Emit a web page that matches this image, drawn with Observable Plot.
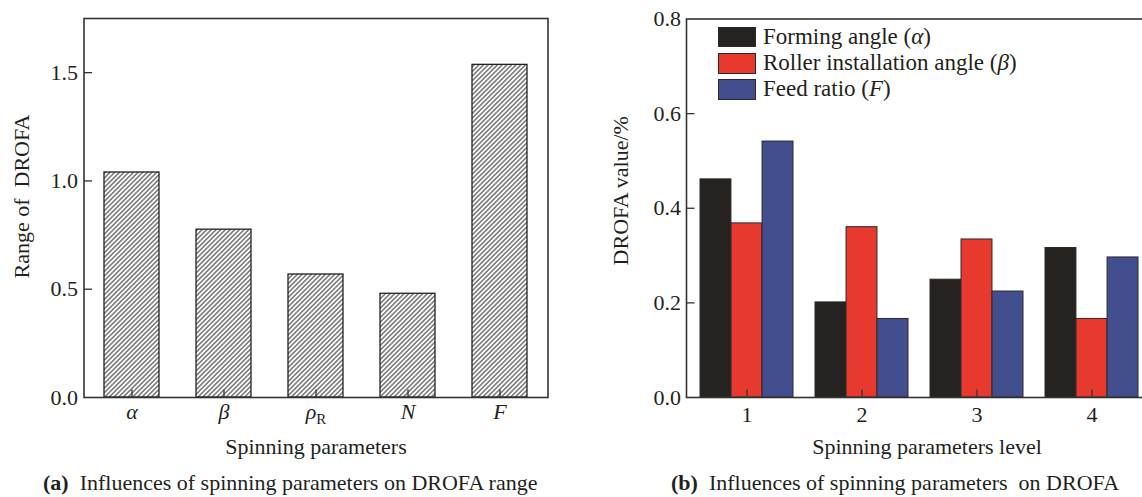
<!DOCTYPE html>
<html><head><meta charset="utf-8">
<script src="https://cdn.jsdelivr.net/npm/d3@7"></script>
<script src="https://cdn.jsdelivr.net/npm/@observablehq/plot@0.6"></script>
<style>
html,body{margin:0;padding:0;background:#fff;}
body{width:1142px;height:497px;overflow:hidden;position:relative;font-family:"Liberation Serif",serif;color:#231f20;}
.panel{position:absolute;top:0;}
.panel svg{max-width:none !important;display:block;}
svg text{font-family:"Liberation Serif",serif;font-size:22px;fill:#231f20;}
.caption{position:absolute;top:472px;font-size:22px;line-height:22px;white-space:pre;}
.legend{position:absolute;left:718px;top:24px;font-size:23px;}
.legend .row{display:flex;align-items:center;height:26.2px;line-height:26px;white-space:pre;}
.legend .sw{width:35.7px;height:18.5px;border:1px solid #2a2a2a;margin-right:7.3px;box-sizing:content-box;}
</style></head><body>
<div class="panel" id="left" style="left:0;width:570px"></div>
<div class="panel" id="right" style="left:600px;width:600px"></div>
<div class="legend" id="legend"></div>
<div class="caption" style="left:43px"><b>(a)</b>  Influences of spinning parameters on DROFA range</div>
<div class="caption" style="left:671px"><b>(b)</b>  Influences of spinning parameters  on DROFA</div>
<script>
// ---- data ----
const params = ["α", "β", "ρR", "N", "F"];
const ranges = [1.039, 0.775, 0.568, 0.479, 1.536];
const leftYTicks = [0, 0.5, 1.0, 1.5];

const levels = ["1", "2", "3", "4"];
const seriesNames = ["Forming angle", "Roller installation angle", "Feed ratio"];
const seriesSymbols = ["α", "β", "F"];
const seriesColors = ["#252220", "#e8392f", "#434e8f"];
const formingAngle = [0.461, 0.201, 0.249, 0.316];
const rollerAngle = [0.368, 0.360, 0.334, 0.166];
const feedRatio = [0.541, 0.166, 0.224, 0.296];
const rightYTicks = [0, 0.2, 0.4, 0.6, 0.8];

const fmt = d3.format(".1f");
const tickUp = {draw(ctx) { ctx.moveTo(0, 0); ctx.lineTo(0, -8); }};
const tickRight = {draw(ctx) { ctx.moveTo(0, 0); ctx.lineTo(8, 0); }};
const tickStyle = {fill: "none", stroke: "#333", strokeWidth: 1.3};

// ---- left panel ----
const leftData = params.map((p, i) => ({param: p, value: ranges[i]}));
const left = Plot.plot({
  width: 570, height: 470,
  marginLeft: 83.5, marginRight: 22.5, marginTop: 18, marginBottom: 73,
  style: {background: "transparent", maxWidth: "none", overflow: "visible"},
  x: {domain: params, paddingInner: 0.4, paddingOuter: 0.2, tickSize: 0, tickPadding: 6, label: null},
  y: {domain: [0, 1.75], ticks: leftYTicks, tickFormat: fmt, tickSize: 0, tickPadding: 6, label: null},
  marks: [
    Plot.barY(leftData, {x: "param", y: "value", fill: "url(#hatch)", stroke: "#222", strokeWidth: 1.3}),
    Plot.dot(params, {x: d => d, frameAnchor: "bottom", symbol: tickUp, ...tickStyle}),
    Plot.dot(leftYTicks.slice(1), {y: d => d, frameAnchor: "left", symbol: tickRight, ...tickStyle}),
    Plot.frame({stroke: "#333", strokeWidth: 1.6}),
    Plot.text(["Spinning parameters"], {text: d => d, frameAnchor: "bottom", textAnchor: "middle", lineAnchor: "middle", dy: 49.5}),
    Plot.text(["Range of\u00a0 DROFA"], {text: d => d, frameAnchor: "left", textAnchor: "middle", lineAnchor: "middle", rotate: -90, dx: -62, dy: -11.5})
  ]
});
document.getElementById("left").appendChild(left);
const defs = d3.select(left).insert("defs", ":first-child");
const pat = defs.append("pattern").attr("id", "hatch").attr("patternUnits", "userSpaceOnUse")
  .attr("width", 3.3).attr("height", 3.3).attr("patternTransform", "rotate(45)");
pat.append("rect").attr("width", 3.3).attr("height", 3.3).attr("fill", "#fff");
pat.append("line").attr("x1", 1.65).attr("y1", -1).attr("x2", 1.65).attr("y2", 4.3)
  .attr("stroke", "#222").attr("stroke-width", 0.95);
d3.select(left).selectAll("text").each(function() {
  const t = this.textContent;
  if (!params.includes(t)) return;
  const s = d3.select(this);
  if (t === "ρR") {
    s.text(null);
    s.append("tspan").style("font-style", "italic").text("ρ");
    s.append("tspan").style("font-style", "normal").style("font-size", "15px").attr("dy", "5").text("R");
  } else {
    s.style("font-style", "italic");
  }
});

// ---- right panel ----
const rightData = levels.map((l, i) => ({level: l, forming: formingAngle[i], roller: rollerAngle[i], feed: feedRatio[i]}));
const seriesKeys = ["forming", "roller", "feed"];
const rW = 600, rML = 86, rMR = 49, pIn = 0.195, pOut = 0.108;
const step = (rW - rML - rMR) / (levels.length - pIn + 2 * pOut);
const third = step * (1 - pIn) / 3;
const right = Plot.plot({
  width: rW, height: 470,
  marginLeft: rML, marginRight: rMR, marginTop: 18.5, marginBottom: 73,
  style: {background: "transparent", maxWidth: "none", overflow: "visible"},
  x: {domain: levels, paddingInner: pIn, paddingOuter: pOut, tickSize: 0, tickPadding: 9, label: null},
  y: {domain: [0, 0.8], ticks: rightYTicks, tickFormat: fmt, tickSize: 0, tickPadding: 5.5, label: null},
  marks: [
    ...seriesKeys.map((k, j) => Plot.barY(rightData, {
      x: "level", y: k, fill: seriesColors[j], stroke: "#2a2a2a", strokeWidth: 1,
      insetLeft: j * third, insetRight: (2 - j) * third
    })),
    Plot.dot(levels, {x: d => d, frameAnchor: "bottom", symbol: tickUp, ...tickStyle}),
    Plot.dot(rightYTicks.slice(1, -1), {y: d => d, frameAnchor: "left", symbol: tickRight, ...tickStyle}),
    Plot.frame({stroke: "#333", strokeWidth: 1.6}),
    Plot.text(["Spinning parameters level"], {text: d => d, frameAnchor: "bottom", textAnchor: "middle", lineAnchor: "middle", dy: 49.5, dx: 8}),
    Plot.text(["DROFA value/%"], {text: d => d, frameAnchor: "left", textAnchor: "middle", lineAnchor: "middle", rotate: -90, dx: -66, dy: -17.5})
  ]
});
document.getElementById("right").appendChild(right);

// ---- legend ----
const legend = d3.select("#legend");
seriesNames.forEach((name, j) => {
  const row = legend.append("div").attr("class", "row");
  row.append("div").attr("class", "sw").style("background", seriesColors[j]);
  const lab = row.append("span");
  lab.append("span").text(name + " (");
  lab.append("i").text(seriesSymbols[j]);
  lab.append("span").text(")");
});
</script>
</body></html>
